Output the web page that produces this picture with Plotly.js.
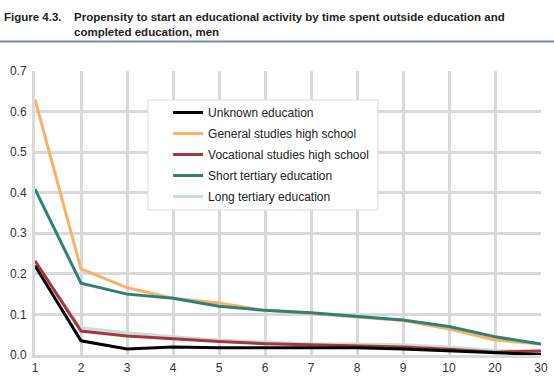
<!DOCTYPE html>
<html>
<head>
<meta charset="utf-8">
<script src="https://cdn.plot.ly/plotly-3.0.1.min.js"></script>
<style>
  html, body { margin: 0; padding: 0; background: #fff; }
  #chart { width: 554px; height: 382px; }
</style>
</head>
<body>
<div id="chart"></div>
<script>
// Years spent outside education (categorical axis)
const years = ["1", "2", "3", "4", "5", "6", "7", "8", "9", "10", "20", "30"];

// Propensity to start an educational activity, men
const unknownEdu     = [0.220, 0.035, 0.015, 0.020, 0.018, 0.018, 0.017, 0.018, 0.015, 0.010, 0.005, 0.001];
const generalHigh    = [0.630, 0.212, 0.166, 0.140, 0.128, 0.110, 0.102, 0.094, 0.085, 0.064, 0.037, 0.027];
const vocationalHigh = [0.232, 0.059, 0.047, 0.040, 0.033, 0.028, 0.025, 0.022, 0.020, 0.014, 0.007, 0.010];
const shortTertiary  = [0.409, 0.177, 0.150, 0.140, 0.120, 0.110, 0.104, 0.095, 0.086, 0.070, 0.045, 0.027];
const longTertiary   = [0.220, 0.067, 0.055, 0.045, 0.037, 0.032, 0.028, 0.027, 0.025, 0.020, 0.011, 0.010];

const seriesNames  = ["Unknown education", "General studies high school", "Vocational studies high school",
                      "Short tertiary education", "Long tertiary education"];
const seriesValues = [unknownEdu, generalHigh, vocationalHigh, shortTertiary, longTertiary];
const seriesColors = ["#000000", "#f7b267", "#a8353a", "#2f8177", "#c5e0da"];

// Draw the light ones first so the darker lines sit on top, but keep legend order
const drawOrder = [4, 2, 0, 1, 3];
const traces = drawOrder.map(i => ({
  x: years,
  y: seriesValues[i],
  name: seriesNames[i],
  legendgroup: "g" + i,
  type: "scatter",
  mode: "lines",
  line: { color: seriesColors[i], width: 3 },
  legendrank: i + 1
}));

const gridColor = "#d9d9d9";
const font = "Liberation Sans, Arial, sans-serif";

const layout = {
  width: 554,
  height: 382,
  margin: { l: 35, r: 13, t: 71, b: 27 },
  paper_bgcolor: "#ffffff",
  plot_bgcolor: "#ffffff",
  font: { family: font, size: 12, color: "#333333" },
  showlegend: true,
  legend: {
    x: 0.263, y: 0.905, xanchor: "left", yanchor: "top",
    bgcolor: "rgba(0,0,0,0)", borderwidth: 0,
    font: { family: font, size: 12, color: "#222222" },
    traceorder: "grouped",
    tracegroupgap: 2
  },
  xaxis: {
    type: "category",
    range: [0, 11],
    showgrid: true, gridcolor: gridColor, gridwidth: 3,
    showline: true, linecolor: gridColor, linewidth: 3,
    ticks: "", tickfont: { family: font, size: 12, color: "#333333" },
    fixedrange: true
  },
  yaxis: {
    range: [0, 0.7],
    dtick: 0.1, tickformat: ".1f",
    showgrid: true, gridcolor: gridColor, gridwidth: 3,
    zeroline: false,
    showline: true, linecolor: gridColor, linewidth: 3,
    ticks: "", ticklabelstandoff: 3,
    tickfont: { family: font, size: 12, color: "#333333" },
    fixedrange: true
  },
  shapes: [
    // Rule under the figure heading
    { type: "line", xref: "paper", yref: "paper",
      x0: -35 / 506, x1: 519 / 506, y0: (355 - 41.5) / 284, y1: (355 - 41.5) / 284,
      line: { color: "#7189b8", width: 2 } },
    // Legend frame
    { type: "rect", xref: "paper", yref: "paper",
      x0: (148 - 35) / 506, x1: (378 - 35) / 506,
      y0: (355 - 210) / 284, y1: (355 - 100) / 284,
      fillcolor: "#ffffff", line: { color: "#dcdcdc", width: 1 }, layer: "above" }
  ],
  annotations: [
    { text: "<b>Figure 4.3.</b>", xref: "paper", yref: "paper",
      x: -33 / 506, y: (355 - 9) / 284, xanchor: "left", yanchor: "top",
      showarrow: false, align: "left",
      font: { family: font, size: 11.5, color: "#222222" } },
    { text: "<b>Propensity to start an educational activity by time spent outside education and<br>completed education, men</b>",
      xref: "paper", yref: "paper",
      x: 37 / 506, y: (355 - 9) / 284, xanchor: "left", yanchor: "top",
      showarrow: false, align: "left",
      font: { family: font, size: 11.5, color: "#222222" } }
  ]
};

Plotly.newPlot("chart", traces, layout, { displayModeBar: false, staticPlot: true });
</script>
</body>
</html>
